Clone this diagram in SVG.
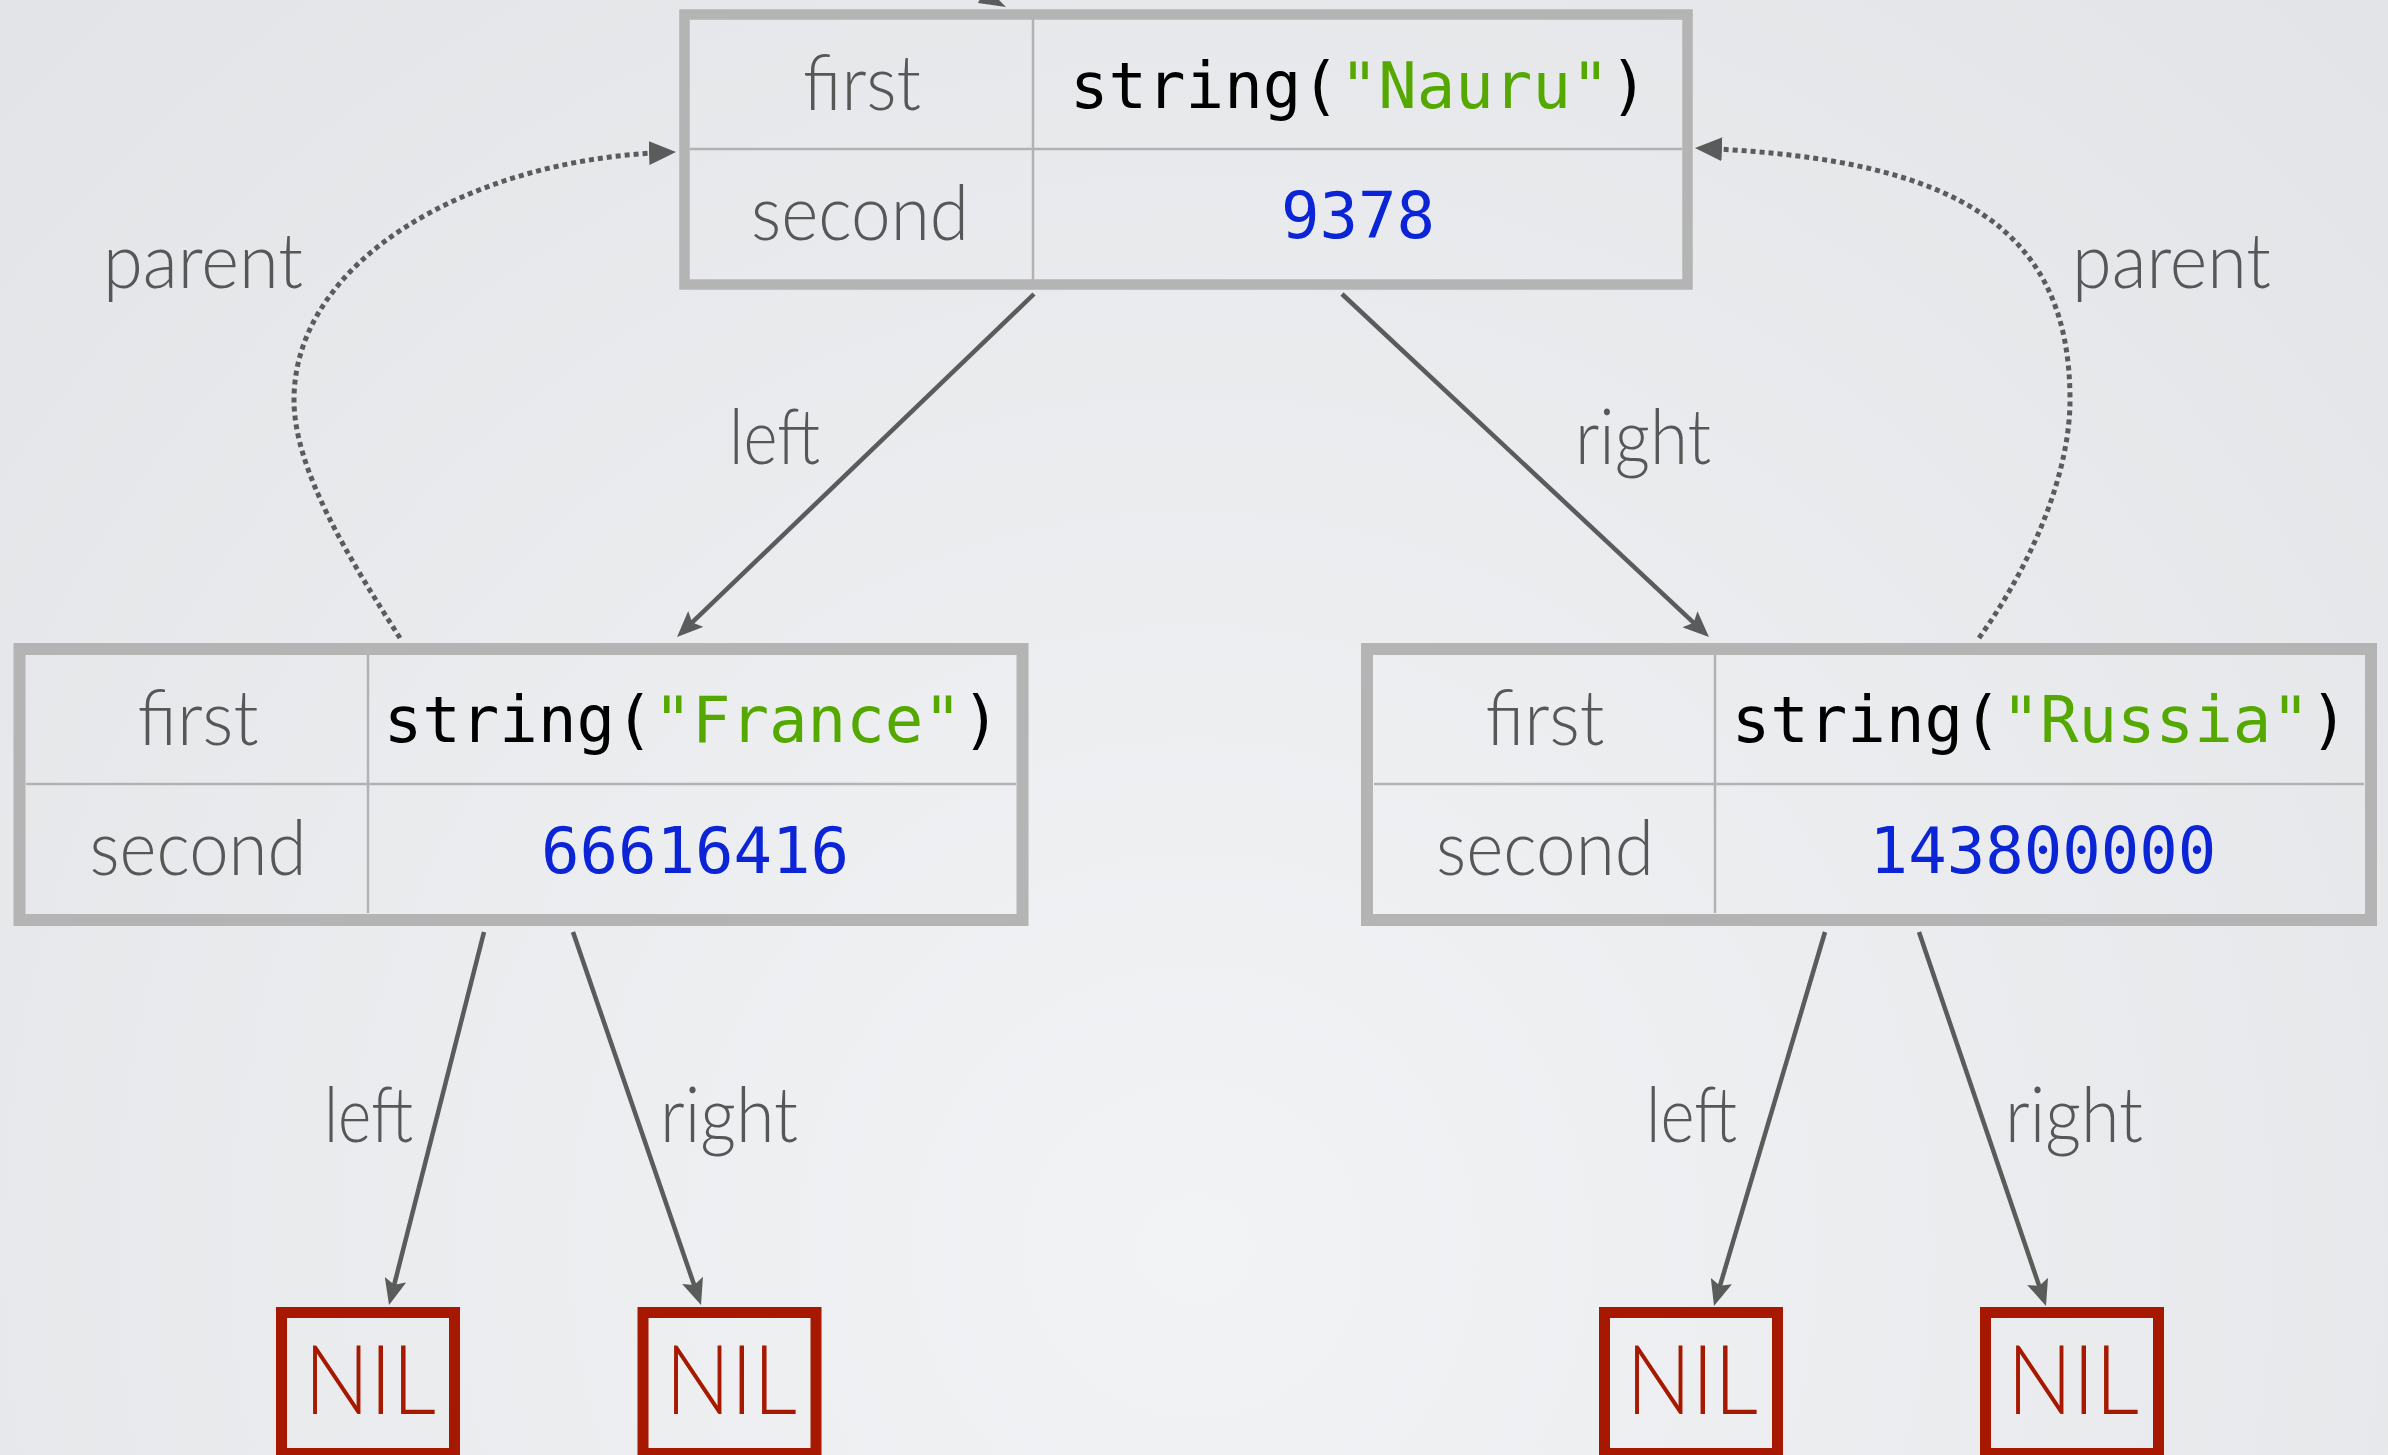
<svg xmlns="http://www.w3.org/2000/svg" width="2388" height="1455" viewBox="0 0 2388 1455">
<defs>
<radialGradient id="bg" cx="1194" cy="1250" r="1700" gradientUnits="userSpaceOnUse">
<stop offset="0" stop-color="#f2f3f5"/>
<stop offset="1" stop-color="#e2e4e7"/>
</radialGradient>
<marker id="ah" markerUnits="userSpaceOnUse" markerWidth="26" markerHeight="22" refX="14" refY="11" orient="auto" viewBox="0 0 26 22">
<path d="M0,0 L26,11 L0,22 L5,11 z" fill="#595c5b"/>
</marker>
<marker id="ahd" markerUnits="userSpaceOnUse" markerWidth="27" markerHeight="24" refX="15" refY="12" orient="auto" viewBox="0 0 27 24">
<path d="M0,0 L27,12 L0,24 z" fill="#595c5b"/>
</marker>
</defs>
<style>
.box{fill:none;stroke:#b4b4b4;stroke-width:12}
.div{stroke:#b2b2b2;stroke-width:2.5}
.lbl{font-family:"Gill Sans","Lato","Open Sans","Liberation Sans",sans-serif;font-weight:300;font-size:77px;fill:#575757}
.cell{text-anchor:middle}
.mono{font-family:"DejaVu Sans Mono","Liberation Mono",monospace;font-size:64px;text-anchor:middle;fill:#000}
.str{fill:#55a800}
.num{fill:#0a24d6}
.nil{fill:none;stroke:#a61900;stroke-width:11}
.niltxt{font-family:"Gill Sans","Lato","Open Sans","Liberation Sans",sans-serif;font-weight:300;font-size:97px;fill:#a61900;text-anchor:middle}
.edge{fill:none;stroke:#595c5b;stroke-width:4.5;marker-end:url(#ah)}
.par{fill:none;stroke:#595c5b;stroke-width:5;stroke-dasharray:5 4;marker-end:url(#ahd)}
</style>
<rect x="0" y="0" width="2388" height="1455" fill="url(#bg)"/>

<g id="connectors">
<path class="edge" d="M1034,294 L685.7,628.7"/>
<path class="edge" d="M1342,294 L1700.2,628.8"/>
<path class="edge" d="M484,932 L392.0,1293.4"/>
<path class="edge" d="M573,932 L697.1,1293.6"/>
<path class="edge" d="M1825,932 L1717.4,1294.5"/>
<path class="edge" d="M1919,932 L2042.1,1294.6"/>
<path class="par" d="M400,638 C350,560 294,470 294,400 C294,260 470,160 664,152.5"/>
<path class="par" d="M1979,638 C2035,560 2070,470 2070,400 C2070,230 1960,160 1707,148.5"/>
<polygon points="1006,7 978,3 986,-13" fill="#595c5b"/>
<text class="lbl" x="729" y="464" textLength="91" lengthAdjust="spacingAndGlyphs">left</text>
<text class="lbl" x="1575" y="464" textLength="136" lengthAdjust="spacingAndGlyphs">right</text>
<text class="lbl" x="324" y="1142" textLength="89" lengthAdjust="spacingAndGlyphs">left</text>
<text class="lbl" x="660" y="1142" textLength="138" lengthAdjust="spacingAndGlyphs">right</text>
<text class="lbl" x="1646" y="1142" textLength="91" lengthAdjust="spacingAndGlyphs">left</text>
<text class="lbl" x="2005" y="1142" textLength="138" lengthAdjust="spacingAndGlyphs">right</text>
<text class="lbl" x="103" y="288" textLength="200" lengthAdjust="spacingAndGlyphs">parent</text>
<text class="lbl" x="2072" y="288" textLength="199" lengthAdjust="spacingAndGlyphs">parent</text>
</g>

<g id="node-nauru">
<rect class="box" x="684.5" y="14.5" width="1003" height="270" style="stroke-width:10.5"/>
<line class="div" x1="1033" y1="19" x2="1033" y2="280"/>
<line class="div" x1="690" y1="149" x2="1682" y2="149"/>
<text class="lbl cell" x="862" y="110" textLength="118" lengthAdjust="spacingAndGlyphs">first</text>
<text class="lbl cell" x="860" y="240" textLength="218" lengthAdjust="spacingAndGlyphs">second</text>
<text class="mono" x="1359" y="108">string(<tspan class="str">"Nauru"</tspan>)</text>
<text class="mono num" x="1358" y="238">9378</text>
</g>

<g id="node-france">
<rect class="box" x="19.5" y="649" width="1003" height="271"/>
<line class="div" x1="368" y1="655" x2="368" y2="913"/>
<line class="div" x1="26" y1="784" x2="1016" y2="784"/>
<text class="lbl cell" x="198" y="745" textLength="121" lengthAdjust="spacingAndGlyphs">first</text>
<text class="lbl cell" x="198" y="875" textLength="217" lengthAdjust="spacingAndGlyphs">second</text>
<text class="mono" x="692" y="742">string(<tspan class="str">"France"</tspan>)</text>
<text class="mono num" x="695" y="873">66616416</text>
</g>

<g id="node-russia">
<rect class="box" x="1367" y="649" width="1004" height="271"/>
<line class="div" x1="1715" y1="655" x2="1715" y2="913"/>
<line class="div" x1="1374" y1="784" x2="2364" y2="784"/>
<text class="lbl cell" x="1545" y="745" textLength="119" lengthAdjust="spacingAndGlyphs">first</text>
<text class="lbl cell" x="1545" y="875" textLength="218" lengthAdjust="spacingAndGlyphs">second</text>
<text class="mono" x="2040" y="742">string(<tspan class="str">"Russia"</tspan>)</text>
<text class="mono num" x="2043" y="873">143800000</text>
</g>

<g id="nil-1">
<rect class="nil" x="281.5" y="1312.5" width="173" height="141"/>
<text class="niltxt" x="370" y="1414" textLength="132" lengthAdjust="spacingAndGlyphs">NIL</text>
</g>
<g id="nil-2">
<rect class="nil" x="643" y="1312.5" width="173" height="141"/>
<text class="niltxt" x="731" y="1414" textLength="132" lengthAdjust="spacingAndGlyphs">NIL</text>
</g>
<g id="nil-3">
<rect class="nil" x="1604.5" y="1312.5" width="173" height="141"/>
<text class="niltxt" x="1692" y="1414" textLength="132" lengthAdjust="spacingAndGlyphs">NIL</text>
</g>
<g id="nil-4">
<rect class="nil" x="1985.5" y="1312.5" width="173" height="141"/>
<text class="niltxt" x="2073" y="1414" textLength="132" lengthAdjust="spacingAndGlyphs">NIL</text>
</g>
</svg>
